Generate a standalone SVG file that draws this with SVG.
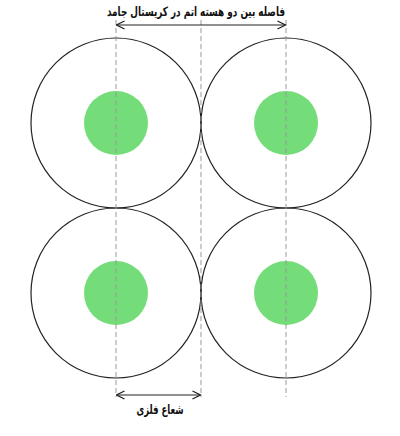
<svg xmlns="http://www.w3.org/2000/svg" width="400" height="436" viewBox="0 0 400 436">
<defs>
<style>
.shell{fill:none;stroke:#222;stroke-width:1.2}
.core{fill:#74dc78;stroke:none}
.guide{stroke:#999;stroke-width:1;stroke-dasharray:5 3;fill:none}
.dim{stroke:#222;stroke-width:1.2;fill:none}
.lbl{font-family:"DejaVu Sans",sans-serif;font-weight:bold;fill:#111;text-anchor:middle}
</style>
<marker id="arr" viewBox="0 0 10 10" refX="9" refY="5" markerWidth="10" markerHeight="10" markerUnits="userSpaceOnUse" orient="auto-start-reverse">
<path d="M1,1 L9,5 L1,9" fill="none" stroke="#222" stroke-width="1.3"/>
</marker>
</defs>
<rect width="400" height="436" fill="#fff"/>
<g id="atom-tl"><circle class="shell" cx="116" cy="123" r="85"/><circle class="core" cx="116" cy="123" r="32"/></g>
<g id="atom-tr"><circle class="shell" cx="286" cy="123" r="85"/><circle class="core" cx="286" cy="123" r="32"/></g>
<g id="atom-bl"><circle class="shell" cx="116" cy="293" r="85"/><circle class="core" cx="116" cy="293" r="32"/></g>
<g id="atom-br"><circle class="shell" cx="286" cy="293" r="85"/><circle class="core" cx="286" cy="293" r="32"/></g>
<g id="connectors">
<line class="guide" x1="116" y1="20" x2="116" y2="397"/>
<line class="guide" x1="201" y1="20" x2="201" y2="397"/>
<line class="guide" x1="286" y1="20" x2="286" y2="397"/>
<line class="dim" x1="116.5" y1="25" x2="285.5" y2="25" marker-start="url(#arr)" marker-end="url(#arr)"/>
<line class="dim" x1="116.5" y1="395" x2="200.5" y2="395" marker-start="url(#arr)" marker-end="url(#arr)"/>
</g>
<g id="labels">
<text class="lbl" x="196" y="16" font-size="13" textLength="178" lengthAdjust="spacingAndGlyphs">فاصله بین دو هسته اتم در کریستال جامد</text>
<text class="lbl" x="160" y="414" font-size="13" textLength="47" lengthAdjust="spacingAndGlyphs">شعاع فلزی</text>
</g>
</svg>
